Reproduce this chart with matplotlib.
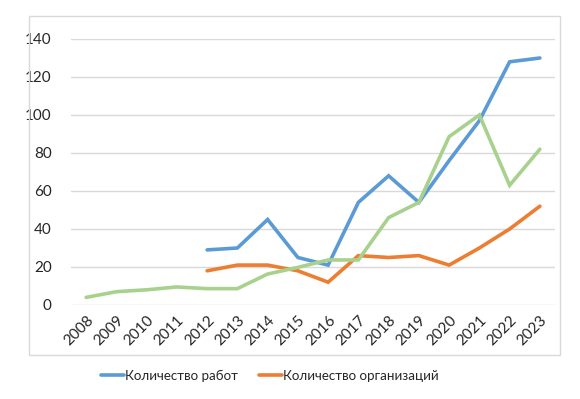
import matplotlib
matplotlib.use("Agg")
import matplotlib.pyplot as plt
from matplotlib.patches import Rectangle
import numpy as np

years = [str(y) for y in range(2008, 2024)]
works = [None, None, None, None, 29, 30, 45, 25, 21, 54, 68, 54, 76, 97, 128, 130]
orgs = [None, None, None, None, 18, 21, 21, 18, 12, 26, 25, 26, 21, 30, 40, 52]
third = [4, 7, 8, 9.5, 8.6, 8.6, 16.3, 19.8, 23.7, 23.7, 46, 54, 88.6, 100, 63, 82]

plt.rcParams['font.family'] = ['Lato', 'DejaVu Sans']

W, H = 580, 399
fig = plt.figure(figsize=(W / 100, H / 100), dpi=100)
ax = fig.add_axes([71 / W, 1 - 305 / H, (555 - 71) / W, (305 - 39) / H])

x = np.arange(len(years))
def arr(v):
    return np.array([np.nan if a is None else a for a in v], dtype=float)

lw = 2.6
ax.plot(x, arr(works), color='#5B9BD5', lw=lw, label='Количество работ', solid_capstyle='round', solid_joinstyle='miter')
ax.plot(x, arr(orgs), color='#ED7D31', lw=lw, label='Количество организаций', solid_capstyle='round', solid_joinstyle='miter')
ax.plot(x, arr(third), color='#A9D18E', lw=lw, solid_capstyle='round', solid_joinstyle='miter')

ax.set_xlim(-0.5, len(years) - 0.5)
ax.set_ylim(0, 140)
ax.set_yticks(range(0, 141, 20))
ax.set_xticks(x)
ax.set_xticklabels(years, rotation=45, ha='right', rotation_mode='anchor')
ax.tick_params(axis='both', length=0, labelsize=11, colors='#262626')
ax.tick_params(axis='y', pad=14)
ax.tick_params(axis='x', pad=6)
for s in ax.spines.values():
    s.set_visible(False)
ax.grid(axis='y', color='#D9D9D9', lw=1)
ax.set_axisbelow(True)

# chart frame
fig.patches.append(Rectangle((29 / W, 1 - 355 / H), (560 - 29) / W, (355 - 16) / H,
                             transform=fig.transFigure, fill=False, edgecolor='#D9D9D9', lw=1))

handles, labels = ax.get_legend_handles_labels()
fig.legend(handles, labels, loc='center', bbox_to_anchor=(270 / W, 1 - 376 / H), ncol=2,
           frameon=False, fontsize=9.6, handlelength=1.7, handletextpad=0.1, columnspacing=1.6,
           labelcolor='#262626')

fig.savefig('out.png', dpi=100, facecolor='white')
